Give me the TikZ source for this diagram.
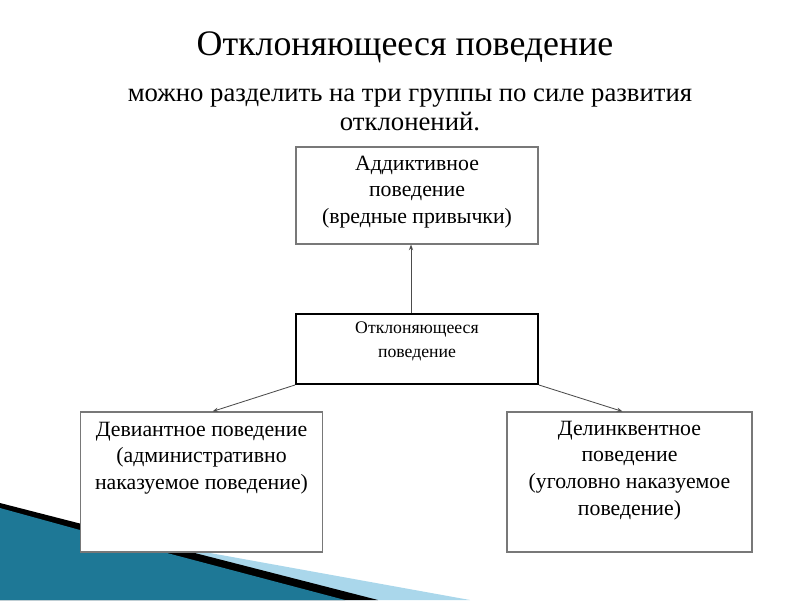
\documentclass[tikz,border=0pt]{standalone}
\usepackage{fontspec}
\setmainfont{Liberation Serif}
\usepackage{xcolor}
\usetikzlibrary{positioning,arrows.meta}
\definecolor{SwooshTeal}{RGB}{30,120,150}
\definecolor{SwooshLight}{RGB}{170,215,235}
\definecolor{BoxGray}{RGB}{120,120,120}
\tikzset{
  groupbox/.style={rectangle,draw=BoxGray,line width=0.8pt,fill=white,minimum width=242*0.025cm,minimum height=140*0.025cm},
  boxtext/.style={align=center,font=\fontsize{15.5}{19}\selectfont,anchor=north,inner sep=0pt},
  link/.style={-{Stealth[length=4pt,width=3pt]},line width=0.6pt,color=black!70}
}
\begin{document}
\begin{tikzpicture}[x=0.025cm,y=-0.025cm]
    \useasboundingbox (0,0) rectangle (800,600);
    % decoration in the corner
    \fill[SwooshLight] (0,515) -- (470,600) -- (0,600) -- cycle;
    \fill[black] (0,503) -- (378,600) -- (0,600) -- cycle;
    \fill[SwooshTeal] (0,508) -- (80,530) -- (345,600) -- (0,600) -- cycle;

    % headings
    \node[font=\fontsize{25.5}{30}\selectfont] (title) at (405,47) {Отклоняющееся поведение};
    \node[align=center,font=\fontsize{19}{20.5}\selectfont,anchor=north] (sub) at (410,84) {можно разделить на три группы по силе развития\\отклонений.};

    % boxes
    \node[groupbox,minimum height=97*0.025cm] (addict) at (417,195.5) {};
    \node[groupbox,draw=black,line width=1.4pt,minimum height=70*0.025cm] (deviant) at (417,349) {};
    \node[groupbox] (admin) at (201.5,482) {};
    \node[groupbox,minimum width=245*0.025cm] (crime) at (629.5,482) {};

    % texts
    \node[boxtext] (addictT) at ([yshift=-9*0.025cm]addict.north) {Аддиктивное\\поведение\\(вредные привычки)};
    \node[boxtext,font=\fontsize{12.6}{17.7}\selectfont] (deviantT) at ([yshift=-8*0.025cm]deviant.north) {Отклоняющееся\\поведение};
    \node[boxtext] (adminT) at ([yshift=-10*0.025cm]admin.north) {Девиантное поведение\\(административно\\наказуемое поведение)};
    \node[boxtext] (crimeT) at ([yshift=-9*0.025cm]crime.north) {Делинквентное\\поведение\\ (уголовно наказуемое\\поведение)};

    % connectors
    \draw[link] ([xshift=-6*0.025cm]deviant.north) -- ([xshift=-6*0.025cm]addict.south);
    \draw[link] (deviant.south west) -- ([xshift=11*0.025cm]admin.north);
    \draw[link] (deviant.south east) -- ([xshift=-7*0.025cm]crime.north);
\end{tikzpicture}
\end{document}
